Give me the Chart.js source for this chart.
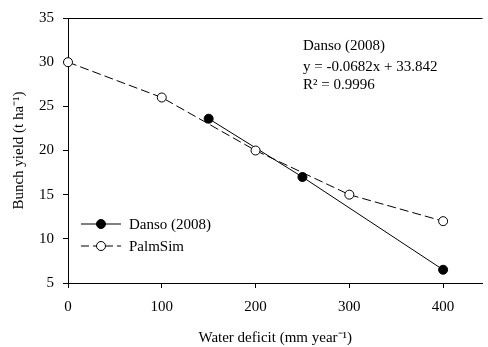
<!DOCTYPE html>
<html>
<head>
<meta charset="utf-8">
<script src="https://cdn.jsdelivr.net/npm/chart.js@4.4.1/dist/chart.umd.min.js"></script>
<style>
  html, body { margin: 0; padding: 0; background: #fff; overflow: hidden; }
  #wrap { width: 488px; height: 347px; position: relative; }
</style>
</head>
<body>
<div id="wrap"><canvas id="yieldChart"></canvas></div>
<script>
const xTicks = [0, 100, 200, 300, 400];
const yTicks = [5, 10, 15, 20, 25, 30, 35];
const dansoX = [150, 250, 400];
const dansoY = [23.6, 17.0, 6.5];
const palmX = [0, 100, 200, 300, 400];
const palmY = [30, 26, 20, 15, 12];
const fitText = ['Danso (2008)', 'y = -0.0682x + 33.842', 'R\u00b2 = 0.9996'];

const serif = "'Liberation Serif', 'Times New Roman', serif";
const toPoints = (xs, ys) => xs.map((x, i) => ({ x: x, y: ys[i] }));

// legend + regression text, drawn on the canvas
const extras = {
    id: 'extras',
    afterDraw(chart) {
        const ctx = chart.ctx;
        const area = chart.chartArea;
        ctx.save();

        // top frame line
        ctx.strokeStyle = '#000';
        ctx.lineWidth = 1;
        ctx.beginPath();
        ctx.moveTo(area.left, area.top + 0.5);
        ctx.lineTo(area.right, area.top + 0.5);
        ctx.stroke();

        ctx.fillStyle = '#000';
        ctx.font = '15px ' + serif;
        ctx.textBaseline = 'middle';
        ctx.textAlign = 'left';

        // regression text
        const tx = area.left + 235;
        [28, 49, 67].forEach((dy, i) => ctx.fillText(fitText[i], tx, area.top + dy));

        // legend
        const items = [
            { label: chart.data.datasets[0].label, dash: [], fill: '#000' },
            { label: chart.data.datasets[1].label, dash: [8, 4], fill: '#fff' }
        ];
        items.forEach((it, i) => {
            const y = area.top + 206 + i * 22;
            const x0 = area.left + 13;
            ctx.setLineDash(it.dash);
            ctx.beginPath();
            ctx.moveTo(x0, y);
            ctx.lineTo(x0 + 40, y);
            ctx.stroke();
            ctx.setLineDash([]);
            ctx.beginPath();
            ctx.arc(x0 + 20, y, 4.5, 0, Math.PI * 2);
            ctx.fillStyle = it.fill;
            ctx.fill();
            ctx.stroke();
            ctx.fillStyle = '#000';
            ctx.fillText(it.label, x0 + 48, y + 1);
        });
        ctx.restore();
    }
};

const ctx = document.getElementById('yieldChart').getContext('2d');
new Chart(ctx, {
    type: 'scatter',
    data: {
        datasets: [{
            label: 'Danso (2008)',
            data: toPoints(dansoX, dansoY),
            showLine: true,
            borderColor: '#000',
            borderWidth: 1,
            pointRadius: 4.5,
            pointBackgroundColor: '#000',
            pointBorderColor: '#000',
            pointBorderWidth: 1,
            order: 1,
            clip: false
        }, {
            label: 'PalmSim',
            data: toPoints(palmX, palmY),
            showLine: true,
            borderColor: '#000',
            borderWidth: 1,
            borderDash: [9, 4],
            pointRadius: 4.5,
            pointBackgroundColor: '#fff',
            pointBorderColor: '#000',
            pointBorderWidth: 1,
            order: 0,
            clip: false
        }]
    },
    options: {
        responsive: true,
        maintainAspectRatio: false,
        animation: false,
        layout: { padding: { top: 15, right: 0, left: 0, bottom: 0 } },
        plugins: {
            legend: { display: false },
            tooltip: { enabled: false }
        },
        scales: {
            x: {
                type: 'linear',
                min: 0,
                max: 442,
                afterBuildTicks: (axis) => { axis.ticks = xTicks.map(v => ({ value: v })); },
                afterFit: (axis) => { axis.height = 64; },
                grid: { drawOnChartArea: false, drawTicks: true, tickLength: 5, color: '#000' },
                border: { display: true, color: '#000', width: 1 },
                ticks: { color: '#000', font: { family: serif, size: 15 }, padding: 10, maxRotation: 0 },
                title: {
                    display: true,
                    text: 'Water deficit (mm year\u207b\u00b9)',
                    color: '#000',
                    font: { family: serif, size: 15 },
                    padding: { top: 0, bottom: 0 }
                }
            },
            y: {
                min: 5,
                max: 35,
                afterBuildTicks: (axis) => { axis.ticks = yTicks.map(v => ({ value: v })); },
                afterFit: (axis) => { axis.width = 68; },
                grid: { drawOnChartArea: false, drawTicks: true, tickLength: 5, color: '#000' },
                border: { display: true, color: '#000', width: 1 },
                ticks: { color: '#000', font: { family: serif, size: 15 }, padding: 9 },
                title: {
                    display: true,
                    text: 'Bunch yield (t ha\u207b\u00b9)',
                    color: '#000',
                    font: { family: serif, size: 15 },
                    padding: { top: 10, bottom: 0 }
                }
            }
        }
    },
    plugins: [extras]
});
</script>
</body>
</html>
